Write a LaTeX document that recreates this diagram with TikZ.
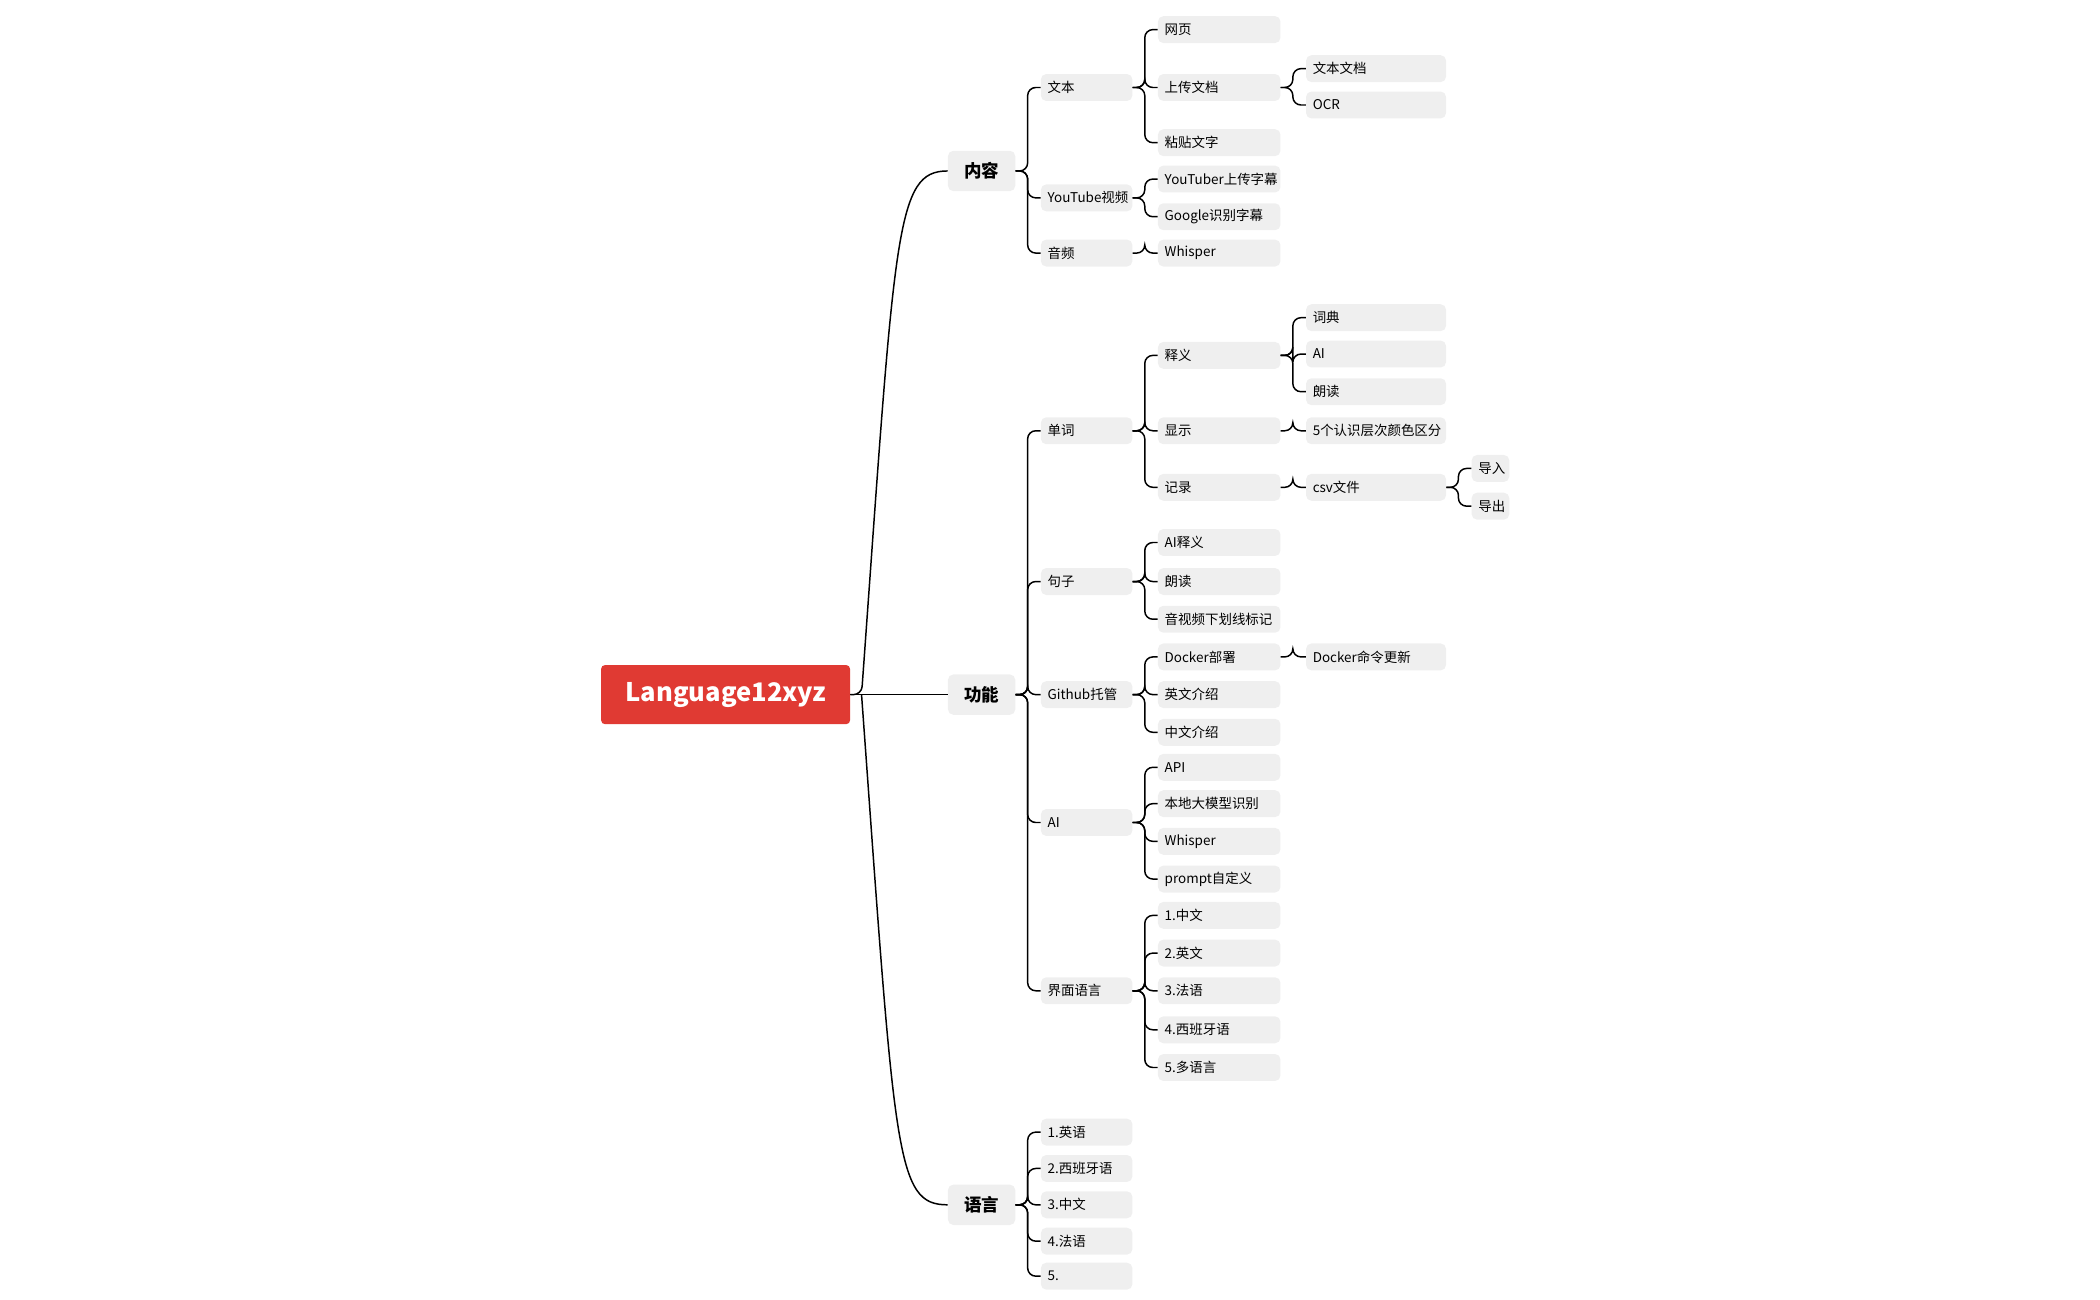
\documentclass[tikz,border=0pt]{standalone}
\usepackage{fontspec}
\setmainfont{Noto Sans CJK SC}
\usetikzlibrary{positioning}
\definecolor{rootred}{HTML}{E03A33}
\definecolor{boxgray}{HTML}{EFEFEF}
\newcommand{\link}[2]{\draw[line] (#1.east) -- ++(9,0) |- (#2.west);}

\begin{document}
\begin{tikzpicture}[x=1pt, y=-1pt,
		line/.style={draw=black, line width=1.1pt, rounded corners=6pt},
		root/.style={rectangle, rounded corners=3pt, fill=rootred, text=white,
			minimum width=185pt, minimum height=44pt,
			font=\fontsize{19}{22}\selectfont\bfseries},
		lvone/.style={rectangle, rounded corners=4pt, fill=boxgray, anchor=west,
			minimum width=50pt, minimum height=30pt,
			font=\fontsize{13}{15}\selectfont\bfseries},
		item/.style={rectangle, rounded corners=4pt, fill=boxgray, anchor=west,
			inner xsep=5pt, minimum height=20pt, align=left,
			font=\fontsize{10}{12}\selectfont},
		lvtwo/.style={item, text width=58pt},
		lvthree/.style={item, text width=81pt},
		lvfour/.style={item, text width=94pt},
		lvfive/.style={item, text width=18pt}]
		\useasboundingbox (0,0) rectangle (1560,965);
		\node[root] (root) at (539,516) {Language12xyz};
		% level one
		\node[lvone] (nr) at (704,127) {内容};
		\node[lvone] (gn) at (704,516) {功能};
		\node[lvone] (yy) at (704,895) {语言};
		\draw[line] (root.east) -- (640,516) .. controls (665,170) and (665,127) .. (nr.west);
		\draw[line] (root.east) -- (gn.west);
		\draw[line] (640,516) .. controls (665,860) and (665,895) .. (yy.west);
		% content
		\node[lvtwo] (wb) at (773,65) {文本};
		\node[lvtwo] (yt) at (773,147) {YouTube视频};
		\node[lvtwo] (yp) at (773,188) {音频};
		\link{nr}{wb} \link{nr}{yt} \link{nr}{yp}
		\node[lvthree] (wy) at (860,22) {网页};
		\node[lvthree] (sc) at (860,65) {上传文档};
		\node[lvthree] (zt) at (860,106) {粘贴文字};
		\link{wb}{wy} \link{wb}{sc} \link{wb}{zt}
		\node[lvfour] (wd) at (970,51) {文本文档};
		\node[lvfour] (ocr) at (970,78) {OCR};
		\link{sc}{wd} \link{sc}{ocr}
		\node[lvthree] (ytz) at (860,133) {YouTuber上传字幕};
		\node[lvthree] (ggz) at (860,161) {Google识别字幕};
		\link{yt}{ytz} \link{yt}{ggz}
		\node[lvthree] (wsa) at (860,188) {Whisper};
		\link{yp}{wsa}
		% functions
		\node[lvtwo] (dc) at (773,320) {单词};
		\node[lvtwo] (jz) at (773,432) {句子};
		\node[lvtwo] (gh) at (773,516) {Github托管};
		\node[lvtwo] (ai) at (773,611) {AI};
		\node[lvtwo] (jm) at (773,736) {界面语言};
		\link{gn}{dc} \link{gn}{jz} \link{gn}{gh} \link{gn}{ai} \link{gn}{jm}
		\node[lvthree] (sy) at (860,264) {释义};
		\node[lvthree] (xs) at (860,320) {显示};
		\node[lvthree] (jl) at (860,362) {记录};
		\link{dc}{sy} \link{dc}{xs} \link{dc}{jl}
		\node[lvfour] (cd) at (970,236) {词典};
		\node[lvfour] (syai) at (970,263) {AI};
		\node[lvfour] (ld) at (970,291) {朗读};
		\link{sy}{cd} \link{sy}{syai} \link{sy}{ld}
		\node[lvfour] (ys) at (970,320) {5个认识层次颜色区分};
		\link{xs}{ys}
		\node[lvfour] (csv) at (970,362) {csv文件};
		\link{jl}{csv}
		\node[lvfive] (dr) at (1093,348) {导入};
		\node[lvfive] (dch) at (1093,376) {导出};
		\link{csv}{dr} \link{csv}{dch}
		\node[lvthree] (aisy) at (860,403) {AI释义};
		\node[lvthree] (jld) at (860,432) {朗读};
		\node[lvthree] (hx) at (860,460) {音视频下划线标记};
		\link{jz}{aisy} \link{jz}{jld} \link{jz}{hx}
		\node[lvthree] (dk) at (860,488) {Docker部署};
		\node[lvthree] (yw) at (860,516) {英文介绍};
		\node[lvthree] (zw) at (860,544) {中文介绍};
		\link{gh}{dk} \link{gh}{yw} \link{gh}{zw}
		\node[lvfour] (dkg) at (970,488) {Docker命令更新};
		\link{dk}{dkg}
		\node[lvthree] (api) at (860,570) {API};
		\node[lvthree] (bd) at (860,597) {本地大模型识别};
		\node[lvthree] (wsb) at (860,625) {Whisper};
		\node[lvthree] (pr) at (860,653) {prompt自定义};
		\link{ai}{api} \link{ai}{bd} \link{ai}{wsb} \link{ai}{pr}
		\node[lvthree] (ja) at (860,680) {1.中文};
		\node[lvthree] (jb) at (860,708) {2.英文};
		\node[lvthree] (jc) at (860,736) {3.法语};
		\node[lvthree] (jd) at (860,765) {4.西班牙语};
		\node[lvthree] (je) at (860,793) {5.多语言};
		\link{jm}{ja} \link{jm}{jb} \link{jm}{jc} \link{jm}{jd} \link{jm}{je}
		% languages
		\node[lvtwo] (ya) at (773,841) {1.英语};
		\node[lvtwo] (yb) at (773,868) {2.西班牙语};
		\node[lvtwo] (yc) at (773,895) {3.中文};
		\node[lvtwo] (yd) at (773,922) {4.法语};
		\node[lvtwo] (ye) at (773,948) {5.};
		\link{yy}{ya} \link{yy}{yb} \link{yy}{yc} \link{yy}{yd} \link{yy}{ye}
\end{tikzpicture}
\end{document}
